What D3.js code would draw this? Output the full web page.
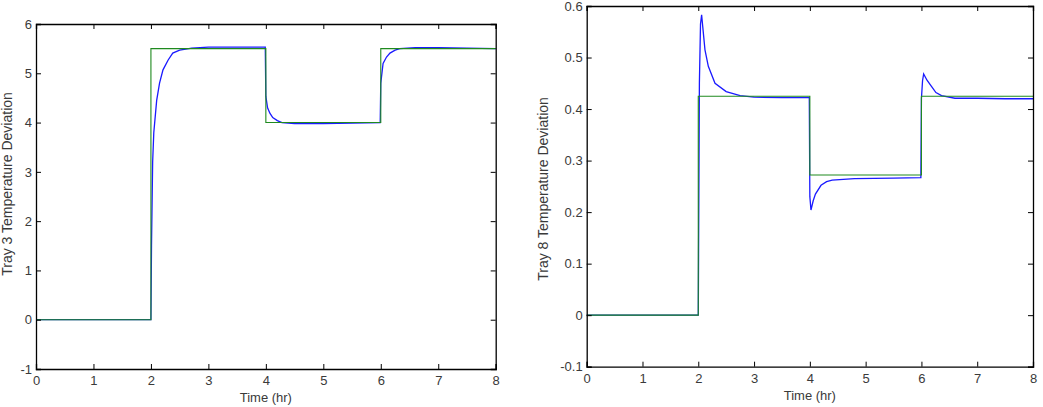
<!DOCTYPE html>
<html>
<head>
<meta charset="utf-8">
<script src="https://cdn.jsdelivr.net/npm/d3@7"></script>
<style>
  body { margin: 0; background: #fff; }
  text { font-family: "Liberation Sans", Arial, sans-serif; }
</style>
</head>
<body>
<div id="space"></div>
<script>
// ---- data ----
var xTicks = [0, 1, 2, 3, 4, 5, 6, 7, 8];

// tray 3 (left)
var tray3Ticks = [-1, 0, 1, 2, 3, 4, 5, 6];
var tray3Setpoint = [[0, 0], [2, 0], [2, 5.5], [4, 5.5], [4, 4], [6, 4], [6, 5.5], [8, 5.5]];
var tray3Response = [
    [0, 0], [2.0, 0], [2.01, 1.5], [2.03, 3.2], [2.05, 3.8], [2.1, 4.45], [2.15, 4.8], [2.21, 5.07],
    [2.3, 5.27], [2.38, 5.41], [2.5, 5.47], [2.71, 5.51], [3.0, 5.53], [3.5, 5.53], [3.99, 5.53],
    [4.0, 4.53], [4.03, 4.3], [4.07, 4.19], [4.12, 4.1], [4.2, 4.04], [4.28, 4.0], [4.5, 3.98],
    [5.0, 3.98], [5.5, 3.99], [5.99, 4.0], [6.0, 4.8], [6.04, 5.2], [6.1, 5.33], [6.16, 5.41],
    [6.25, 5.47], [6.33, 5.5], [6.6, 5.52], [7.0, 5.52], [7.5, 5.51], [8, 5.5]
];

// tray 8 (right)
var tray8Ticks = [-0.1, 0, 0.1, 0.2, 0.3, 0.4, 0.5, 0.6];
var tray8Setpoint = [[0, 0], [2, 0], [2, 0.425], [4, 0.425], [4, 0.272], [6, 0.272], [6, 0.425], [8, 0.425]];
var tray8Response = [
    [0, 0], [2.0, 0], [2.02, 0.45], [2.04, 0.565], [2.06, 0.583], [2.08, 0.56], [2.12, 0.515],
    [2.18, 0.483], [2.3, 0.45], [2.5, 0.434], [2.75, 0.426], [3.0, 0.423], [3.5, 0.422], [3.99, 0.422],
    [4.0, 0.23], [4.02, 0.204], [4.06, 0.222], [4.1, 0.235], [4.2, 0.252], [4.3, 0.259], [4.4, 0.262],
    [4.8, 0.265], [5.5, 0.266], [5.99, 0.267], [6.0, 0.42], [6.02, 0.455], [6.04, 0.468], [6.1, 0.456],
    [6.18, 0.444], [6.26, 0.432], [6.36, 0.426], [6.6, 0.421], [7.0, 0.421], [7.5, 0.42], [8, 0.42]
];

var W = 1043, H = 407;
var svg = d3.select("#space").append("svg")
    .attr("xmlns", "http://www.w3.org/2000/svg")
    .attr("width", W)
    .attr("height", H);

function drawPanel(box, yDomain, yTicks, yFmt, ylabel, response, setpoint, labelPos) {
    var x = d3.scaleLinear().domain([0, 8]).range([box.left, box.right]);
    var y = d3.scaleLinear().domain(yDomain).range([box.bottom, box.top]);
    var g = svg.append("g");

    var line = d3.line().x(function (d) { return x(d[0]); }).y(function (d) { return y(d[1]); });

    //Series
    g.append("path").datum(response)
        .attr("d", line)
        .attr("fill", "none")
        .attr("stroke", "#1a1aff")
        .attr("stroke-width", 1.3);
    g.append("path").datum(setpoint)
        .attr("d", line)
        .attr("fill", "none")
        .attr("stroke", "#1f8a1f")
        .attr("stroke-width", 1.1);

    //Axes, ticks inward on all sides
    var tl = 5;
    g.append("g").attr("transform", "translate(0," + box.bottom + ")")
        .call(d3.axisBottom(x).tickValues(xTicks).tickSize(-tl).tickPadding(7).tickFormat(d3.format("d")));
    g.append("g").attr("transform", "translate(0," + box.top + ")")
        .call(d3.axisTop(x).tickValues(xTicks).tickSize(-tl).tickFormat(""));
    g.append("g").attr("transform", "translate(" + box.left + ",0)")
        .call(d3.axisLeft(y).tickValues(yTicks).tickSize(-tl).tickPadding(4).tickFormat(yFmt));
    g.append("g").attr("transform", "translate(" + box.right + ",0)")
        .call(d3.axisRight(y).tickValues(yTicks).tickSize(-tl).tickFormat(""));

    g.selectAll(".domain").attr("stroke", "#000").attr("stroke-width", 1.3);
    g.selectAll(".tick line").attr("stroke", "#000").attr("stroke-width", 1);
    g.selectAll(".tick text")
        .attr("font-family", "Liberation Sans, Arial, sans-serif")
        .attr("font-size", "13px")
        .attr("fill", "#3a3a3a");

    //Labels
    g.append("text")
        .attr("x", (box.left + box.right) / 2)
        .attr("y", box.bottom + 33)
        .attr("text-anchor", "middle")
        .attr("font-size", "13px")
        .attr("fill", "#3a3a3a")
        .text("Time (hr)");
    g.append("text")
        .attr("transform", "translate(" + labelPos[0] + "," + labelPos[1] + ") rotate(-90)")
        .attr("text-anchor", "middle")
        .attr("font-size", "14px")
        .attr("fill", "#3a3a3a")
        .text(ylabel);
}

//plain hyphen for negatives, as in the original
function plainFmt(d) {
    if (Math.abs(d) < 1e-9) return "0";
    var s = Number.isInteger(d) ? String(d) : d.toFixed(1);
    return s;
}

drawPanel({ left: 36, right: 495.7, top: 24, bottom: 369 }, [-1, 6], tray3Ticks, plainFmt,
    "Tray 3 Temperature Deviation", tray3Response, tray3Setpoint, [12, 184]);
drawPanel({ left: 586.7, right: 1033, top: 6, bottom: 366.7 }, [-0.1, 0.6], tray8Ticks, plainFmt,
    "Tray 8 Temperature Deviation", tray8Response, tray8Setpoint, [548, 189]);
</script>
</body>
</html>
